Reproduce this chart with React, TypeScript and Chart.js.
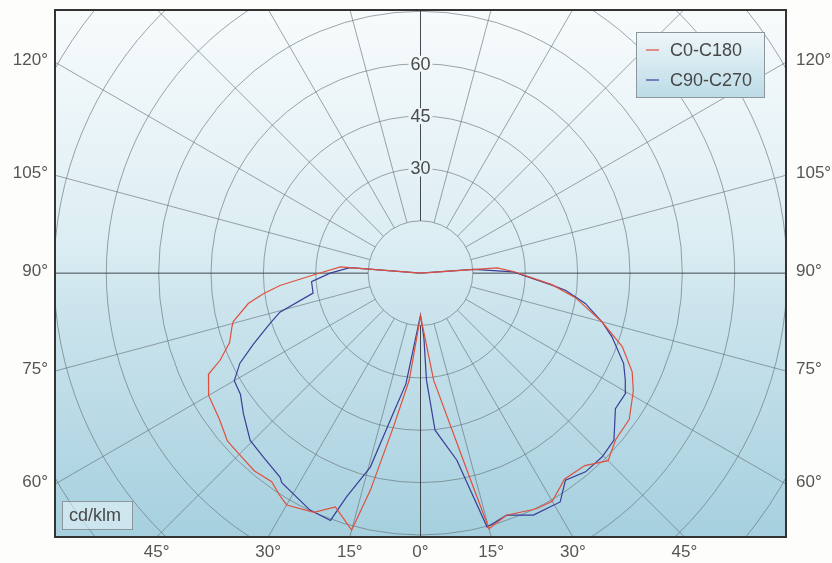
import React, { useEffect, useRef } from "react";
import { Chart, registerables } from "chart.js";

Chart.register(...registerables);

// ---- data (gamma angle in degrees from nadir, luminous intensity in cd/klm)
const seriesNames = ["C0-C180", "C90-C270"];
const seriesColors = ["#e0503e", "#3a3e96"];

const c0Angles = [
  -180, -94.5, -89, -85, -82.5, -80, -75.5, -74, -70, -66.5, -64.5, -63, -60, -54, -49, -45, -40,
  -35.5, -32.5, -30, -24, -20, -15, -13, -10, -6, 0, 7, 13.5, 15, 19.5, 26, 30, 35, 40.5, 45, 49.5,
  55, 61, 65, 70, 75, 81, 85, 91, 94, 180,
];
const c0Values = [
  0, 23, 30.7, 40.4, 45.4, 50.1, 55.4, 56.2, 58.2, 62.6, 67.3, 68.1, 70.1, 71.2, 73.3, 73.4, 74,
  73.4, 75.3, 76.7, 75, 71.3, 76.2, 63.8, 44.8, 30.8, 12.3, 30.9, 60, 75.8, 73.6, 75.2, 75.5, 72,
  72.5, 76, 73.5, 73, 69.7, 66.9, 61.5, 53.8, 44.9, 37.8, 26.6, 22, 0,
];

const c90Angles = [
  -180, -94.5, -90, -85.5, -79.5, -74.5, -71.5, -67, -63.5, -60, -56, -51.5, -45.5, -40.5, -34.5,
  -33.5, -25, -20, -18.3, -14.5, -11, -7.5, 0, 3, 3.2, 5.3, 11, 14.7, 19.6, 25, 31.4, 35, 39.7,
  44.7, 49.2, 55.2, 59.6, 62.4, 66, 71.6, 75, 79.6, 83.3, 84.8, 90.8, 94, 180,
];
const c90Values = [
  0, 20.3, 25.9, 31.3, 31.3, 41.8, 45.5, 52, 57.8, 61.6, 62.2, 64.8, 68.4, 69.3, 71, 72, 74.9,
  75.4, 67.5, 57.4, 40.9, 32, 12, 18.5, 30.7, 45.2, 54.6, 75.2, 73.6, 76.5, 76.8, 72.4, 74, 74,
  73.2, 68, 68.1, 66.2, 63.7, 57.8, 53.8, 48, 41.8, 37.8, 26.6, 15.2, 0,
];

const ringValues = [15, 30, 45, 60, 75, 90, 105, 120, 135];
const ringLabelValues = [30, 45, 60];
const spokeAngles = [
  0, 15, 30, 45, 60, 75, 90, 105, 120, 135, 150, 165, 180, -15, -30, -45, -60, -75, -90, -105,
  -120, -135, -150, -165,
];
const unitLabel = "cd/klm";

const X_MIN = -104.7;
const X_MAX = 104.7;
const Y_MIN = -75.6;
const Y_MAX = 75.4;

const FONT = "'Liberation Sans', Arial, Helvetica, sans-serif";

function polarToXY(angles: number[], values: number[]) {
  return angles.map((g, i) => {
    const t = (g * Math.PI) / 180;
    return { x: values[i] * Math.sin(t), y: -values[i] * Math.cos(t) };
  });
}

function makeBg(ctx: CanvasRenderingContext2D, a: any) {
  const g = ctx.createLinearGradient(0, a.top, 0, a.bottom);
  g.addColorStop(0, "#f8fbfc");
  g.addColorStop(0.45, "#dbedf3");
  g.addColorStop(0.55, "#cde5ed");
  g.addColorStop(1, "#a6d0df");
  return g;
}

const polarPlugin = {
  id: "polarPlugin",
  beforeDraw(chart: any) {
    const { ctx, chartArea: a, width, height } = chart;
    ctx.save();
    ctx.fillStyle = "#fdfdfb";
    ctx.fillRect(0, 0, width, height);
    ctx.fillStyle = makeBg(ctx, a);
    ctx.fillRect(a.left, a.top, a.right - a.left, a.bottom - a.top);
    ctx.restore();
  },
  beforeDatasetsDraw(chart: any) {
    const { ctx, chartArea: a } = chart;
    const xs = chart.scales.x;
    const ys = chart.scales.y;
    const cx = xs.getPixelForValue(0);
    const cy = ys.getPixelForValue(0);
    const ppu = xs.getPixelForValue(1) - cx;
    ctx.save();
    ctx.beginPath();
    ctx.rect(a.left, a.top, a.right - a.left, a.bottom - a.top);
    ctx.clip();
    // rings
    ctx.strokeStyle = "rgba(95,105,110,0.75)";
    ctx.lineWidth = 0.8;
    ringValues.forEach((v) => {
      ctx.beginPath();
      ctx.arc(cx, cy, v * ppu, 0, Math.PI * 2);
      ctx.stroke();
    });
    // spokes
    const r0 = ringValues[0];
    spokeAngles.forEach((g) => {
      const t = (g * Math.PI) / 180;
      const main = g % 90 === 0;
      ctx.strokeStyle = main ? "rgba(50,55,60,0.9)" : "rgba(95,105,110,0.75)";
      ctx.lineWidth = main ? 1 : 0.8;
      ctx.beginPath();
      ctx.moveTo(xs.getPixelForValue(r0 * Math.sin(t)), ys.getPixelForValue(-r0 * Math.cos(t)));
      ctx.lineTo(xs.getPixelForValue(300 * Math.sin(t)), ys.getPixelForValue(-300 * Math.cos(t)));
      ctx.stroke();
    });
    // ring labels
    ctx.font = `18px ${FONT}`;
    ctx.textAlign = "center";
    ctx.textBaseline = "middle";
    const bg = makeBg(ctx, a);
    ringLabelValues.forEach((v) => {
      const y = ys.getPixelForValue(v);
      const txt = String(v);
      const w = ctx.measureText(txt).width + 4;
      ctx.fillStyle = bg;
      ctx.fillRect(cx - w / 2, y - 8, w, 16);
      ctx.fillStyle = "#4a4a4a";
      ctx.fillText(txt, cx, y + 1);
    });
    ctx.restore();
  },
  afterDatasetsDraw(chart: any) {
    const { ctx, chartArea: a } = chart;
    const xs = chart.scales.x;
    const ys = chart.scales.y;
    ctx.save();
    // frame
    ctx.strokeStyle = "#333333";
    ctx.lineWidth = 2;
    ctx.strokeRect(a.left, a.top, a.right - a.left, a.bottom - a.top);

    // edge angle labels
    ctx.font = `17px ${FONT}`;
    ctx.fillStyle = "#555555";
    ctx.textBaseline = "middle";
    spokeAngles.forEach((g) => {
      const t = (g * Math.PI) / 180;
      const dx = Math.sin(t);
      const dy = -Math.cos(t);
      const tx = Math.abs(dx) < 1e-9 ? Infinity : dx > 0 ? X_MAX / dx : X_MIN / dx;
      const ty = Math.abs(dy) < 1e-9 ? Infinity : dy > 0 ? Y_MAX / dy : Y_MIN / dy;
      const txt = `${Math.abs(g)}°`;
      if (tx < ty) {
        const py = ys.getPixelForValue(tx * dy) - 2;
        if (dx < 0) {
          ctx.textAlign = "right";
          ctx.fillText(txt, a.left - 7, py);
        } else {
          ctx.textAlign = "left";
          ctx.fillText(txt, a.right + 10, py);
        }
      } else if (dy < 0) {
        const px = xs.getPixelForValue(ty * dx);
        ctx.textAlign = "center";
        ctx.fillText(txt, px, a.bottom + 15);
      }
    });

    // legend
    const lx = a.right - 150;
    const ly = a.top + 22;
    const lw = 128;
    const lh = 65;
    const lg = ctx.createLinearGradient(0, ly, 0, ly + lh);
    lg.addColorStop(0, "#eef6f9");
    lg.addColorStop(1, "#bcdce7");
    ctx.fillStyle = lg;
    ctx.fillRect(lx, ly, lw, lh);
    ctx.strokeStyle = "#8c979c";
    ctx.lineWidth = 1;
    ctx.strokeRect(lx + 0.5, ly + 0.5, lw, lh);
    ctx.font = `18px ${FONT}`;
    ctx.textAlign = "left";
    chart.data.datasets.forEach((ds: any, i: number) => {
      const yy = ly + 18 + i * 30;
      ctx.strokeStyle = ds.borderColor;
      ctx.lineWidth = 1.2;
      ctx.beginPath();
      ctx.moveTo(lx + 10, yy);
      ctx.lineTo(lx + 23, yy);
      ctx.stroke();
      ctx.fillStyle = "#484848";
      ctx.fillText(ds.label, lx + 34, yy + 1);
    });

    // unit box
    const ux = a.left + 7;
    const uy = a.bottom - 36;
    ctx.fillStyle = "rgba(235,246,250,0.55)";
    ctx.fillRect(ux, uy, 70, 28);
    ctx.strokeStyle = "#8c979c";
    ctx.lineWidth = 1;
    ctx.strokeRect(ux + 0.5, uy + 0.5, 70, 28);
    ctx.fillStyle = "#484848";
    ctx.font = `18px ${FONT}`;
    ctx.textAlign = "left";
    ctx.fillText(unitLabel, ux + 7, uy + 15);
    ctx.restore();
  },
};

export default function App() {
  const ref = useRef<HTMLCanvasElement | null>(null);
  useEffect(() => {
    document.body.style.margin = "0";
    const canvas = ref.current;
    if (!canvas) return;
    const chart = new Chart(canvas, {
      type: "scatter",
      data: {
        datasets: [
          {
            label: seriesNames[0],
            data: polarToXY(c0Angles, c0Values),
            showLine: true,
            borderColor: seriesColors[0],
            backgroundColor: seriesColors[0],
            borderWidth: 1.2,
            pointRadius: 0,
            tension: 0,
          },
          {
            label: seriesNames[1],
            data: polarToXY(c90Angles, c90Values),
            showLine: true,
            borderColor: seriesColors[1],
            backgroundColor: seriesColors[1],
            borderWidth: 1.2,
            pointRadius: 0,
            tension: 0,
          },
        ],
      },
      options: {
        animation: false,
        responsive: false,
        maintainAspectRatio: false,
        layout: { padding: { left: 55, top: 10, right: 46, bottom: 26 } },
        scales: {
          x: { type: "linear", min: X_MIN, max: X_MAX, display: false },
          y: { type: "linear", min: Y_MIN, max: Y_MAX, display: false },
        },
        plugins: { legend: { display: false }, tooltip: { enabled: false } },
      },
      plugins: [polarPlugin],
    } as any);
    return () => chart.destroy();
  }, []);
  return (
    <div style={{ width: 832, height: 563 }}>
      <canvas ref={ref} width={832} height={563} style={{ display: "block" }} />
    </div>
  );
}
